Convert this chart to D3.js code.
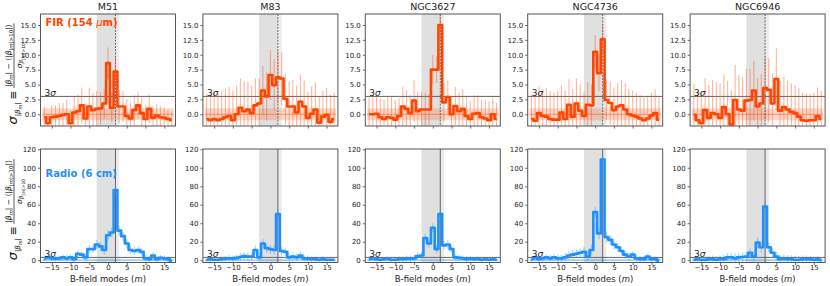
<!DOCTYPE html>
<html><head><meta charset="utf-8">
<script src="https://cdn.jsdelivr.net/npm/d3@7"></script>
<style>
body{margin:0;background:#fff}
text{font-family:"DejaVu Sans",sans-serif}
</style></head><body>
<svg id="chart" width="830" height="286"></svg>
<script>
const galaxies = ["M51","M83","NGC3627","NGC4736","NGC6946"]
const modes = [-17,-16,-15,-14,-13,-12,-11,-10,-9,-8,-7,-6,-5,-4,-3,-2,-1,0,1,2,3,4,5,6,7,8,9,10,11,12,13,14,15,16,17]

// FIR (154 um) significance per mode
const firM51   = [-0.5,-1.5,-0.5,-0.4,-0.3,-0.1,0.0,-1.5,0.3,0.5,1.5,-0.7,1.3,0.7,0.9,1.0,1.8, 8.6,1.1,7.2,1.3,1.3,-0.3,-0.7,0.7,1.5,0.2,-0.8,0.9,-0.6,-0.2,-0.5,-0.6,-0.8,-1.0]
const firM83   = [-0.8,-1.0,-0.8,-1.0,-0.8,-0.5,-0.3,-1.0,0.0,1.1,0.5,0.8,0.2,1.5,1.8,4.0,3.0, 6.6,4.9,6.2,6.0,2.6,1.3,1.3,0.3,2.1,1.3,-0.6,0.1,0.8,-1.4,-0.4,-0.1,-1.3,-0.8]
const firN3627 = [0.0,0.0,0.1,-0.5,-0.8,-0.5,-0.6,-0.9,-0.3,1.3,0.9,0.2,2.3,0.5,0.8,0.8,0.8, 7.5,7.5,15.0,2.0,2.9,0.0,1.4,0.5,0.9,-0.3,-0.8,0.1,0.2,-0.5,-0.7,-1.0,0.0,-0.8]
const firN4736 = [-0.8,-1.1,0.2,-0.3,-0.4,-0.8,-0.9,-0.9,0.3,-0.8,1.6,-0.4,1.8,0.6,-0.3,1.6,1.5, 10.5,6.9,12.6,2.4,1.9,0.7,1.3,1.5,0.8,0.0,-0.2,-0.4,-0.7,-1.0,-0.7,-0.2,0.2,-0.9]
const firN6946 = [-0.1,-1.0,-1.5,0.7,-0.6,0.2,0.0,-0.6,1.2,0.0,-1.7,2.4,0.8,0.6,2.3,2.4,4.0, 1.3,1.8,4.4,4.1,1.8,5.9,0.6,1.2,0.8,0.4,0.2,-0.4,-1.0,-1.1,-1.0,-1.0,-0.3,-0.8]

const firErrM51   = [1.8,1.6,2.0,1.9,2.2,2.0,2.4,2.1,2.6,2.8,3.0,2.5,3.2,2.9,3.0,2.7,2.5, 2.6,2.5,2.4,2.8,2.6,2.9,2.7,2.5,2.2,2.6,2.3,2.4,2.0,1.9,1.8,1.7,1.6,1.5]
const firErrM83   = [4.3,4.4,4.5,4.6,4.7,4.8,4.9,5.0,4.8,4.9,5.0,4.7,4.6,4.5,4.2,4.1,4.0, 4.2,4.3,4.4,4.5,4.3,4.2,4.4,4.5,4.6,4.5,4.4,4.6,4.5,4.4,4.3,4.5,4.6,4.4]
const firErrN3627 = [2.8,2.9,3.0,3.2,3.3,3.4,3.5,3.3,3.0,3.4,3.2,3.1,3.5,3.3,3.0,2.8,2.6, 2.5,2.2,2.6,3.2,2.8,3.0,3.2,3.1,3.3,3.2,3.0,3.1,3.0,2.9,3.0,3.1,2.8,2.7]
const firErrN4736 = [4.0,4.2,4.5,4.6,4.8,4.7,4.6,4.8,4.5,4.9,4.3,4.6,4.2,4.4,4.0,3.8,3.5, 2.8,3.0,2.5,3.3,3.6,3.8,4.0,4.2,4.4,4.3,4.2,4.0,3.9,3.8,3.7,3.9,4.0,3.8]
const firErrN6946 = [5.2,5.0,5.3,5.4,5.5,5.6,5.4,5.8,5.5,5.6,5.7,5.9,5.8,5.6,5.4,5.2,5.0, 4.8,5.0,5.2,5.3,5.1,5.2,5.0,5.1,4.9,4.8,4.7,4.8,4.6,4.5,4.4,4.6,4.8,4.7]

// Radio (6 cm) significance per mode
const radM51   = [2,3,2,1.5,2,3,2,3,1,7,6,3,12,12,17,15,11, 27,30,76,32,26,18,11,10,11,9,2,1,5,1,2.5,2,1,-1]
const radM83   = [0.5,1,0.5,0.5,1,1.5,2,1.5,2.5,3.5,4.5,4,4,11,3,18,13, 12,11,50,10,9,3,4,3,5,2,1.5,1,1,0.5,1,0.5,0.5,0.5]
const radN3627 = [1,2,1,0.5,1,1.5,0.5,0.5,1,1,1.5,1.5,2,4.5,5,24,18, 35,12,50,16,17,12,3,2.5,2,1,1.5,1,1.5,0.5,1,0.5,1,0.5]
const radN4736 = [1,3,1,2,3,2,3,2,2,3,5,6,7,8,9,4,11, 52,29,109,25,22,17,14,10,6,4,6,2,1,1,4,1,1,-0.5]
const radN6946 = [0.5,1,0.5,0.5,1,1,0.5,1,1,3,3,2,3,3.5,4,8,4, 19,14,58,14,8,4,1,1.5,1,1,0.5,0.5,1,1,1,0.5,1,0]

const radErrM51   = [3,3,3,3,3,3.5,3.5,3.5,3.5,4,4,4,4.5,4.5,5,5,5, 5.5,5.5,6,5.5,5,5,4.5,4.5,4,4,3.5,3.5,3.5,3,3,3,3,3]
const radErrM83   = [2.5,2.5,3,3,3,3,3.5,3.5,3.5,4,4,4,4,4.5,4.5,5,5, 5,5,5.5,5,4.5,4.5,4,4,4,3.5,3.5,3,3,3,3,2.5,2.5,2.5]
const radErrN3627 = [2,2,2,2.5,2.5,2.5,3,3,3,3,3.5,3.5,3.5,4,4,4.5,4.5, 5,4.5,5,4.5,4.5,4,3.5,3.5,3,3,3,2.5,2.5,2.5,2,2,2,2]
const radErrN4736 = [3,3,3,3.5,3.5,3.5,4,4,4,4.5,4.5,5,5,5,5.5,5.5,6, 6,6,6.5,6,5.5,5.5,5,5,4.5,4.5,4,4,3.5,3.5,3.5,3,3,3]
const radErrN6946 = [3,3,3.5,3.5,3.5,4,4,4,4.5,4.5,4.5,5,5,5,5.5,5.5,5.5, 6,6,6,5.5,5.5,5,5,5,4.5,4.5,4.5,4,4,4,3.5,3.5,3.5,3]

const firTicks = [0,2.5,5,7.5,10,12.5,15]
const radTicks = [0,20,40,60,80,100,120]
const modeTicks = [-15,-10,-5,0,5,10,15]

const rows = [
  {vals:[firM51,firM83,firN3627,firN4736,firN6946],
   errs:[firErrM51,firErrM83,firErrN3627,firErrN4736,firErrN6946],
   color:"#ff4500", domain:[-1.97,16.85], ticks:firTicks, fmt:d3.format(".1f"),
   top:14, h:112, tag:"FIR (154 ", tagEnd:"m)", vdash:"2,1.2"},
  {vals:[radM51,radM83,radN3627,radN4736,radN6946],
   errs:[radErrM51,radErrM83,radErrN3627,radErrN4736,radErrN6946],
   color:"#1e90ff", domain:[-2.5,120.3], ticks:radTicks, fmt:d3.format("d"),
   top:149, h:113.5, tag:"Radio (6 cm)", vdash:null}
]

const svg = d3.select("#chart")
const W = 135

rows.forEach((row, r) => {
  galaxies.forEach((name, c) => {
    const left = 40.5 + c*162.4
    const g = svg.append("g").attr("transform", `translate(${left},${row.top})`)
    const x = d3.scaleLinear().domain([-18,18]).range([0,W])
    const y = d3.scaleLinear().domain(row.domain).range([row.h,0])
    const id = `clip${r}${c}`
    g.append("clipPath").attr("id", id).append("rect").attr("width", W).attr("height", row.h)
    const p = g.append("g").attr("clip-path", `url(#${id})`)

    // grey band around the central modes
    p.append("rect").attr("x", x(-3)).attr("width", x(2)-x(-3))
      .attr("y", 0).attr("height", row.h).attr("fill", "#e0e0e0")
    p.append("rect").attr("x", x(2)).attr("width", x(3)-x(2))
      .attr("y", 0).attr("height", row.h).attr("fill", "#ececec")

    // +-1 sigma band and zero line
    p.append("rect").attr("x", x(-17.5)).attr("width", x(17.5)-x(-17.5))
      .attr("y", y(1)).attr("height", y(-1)-y(1))
      .attr("fill", row.color).attr("opacity", 0.2)
    p.append("line").attr("x1", x(-17.5)).attr("x2", x(17.5))
      .attr("y1", y(0)).attr("y2", y(0))
      .attr("stroke", row.color).attr("stroke-opacity", 0.4).attr("stroke-width", 1.2)

    // 3 sigma line
    p.append("line").attr("x1", 0).attr("x2", W).attr("y1", y(3)).attr("y2", y(3))
      .attr("stroke", "#666").attr("stroke-width", 1)

    // m = 2 marker
    p.append("line").attr("x1", x(2)).attr("x2", x(2)).attr("y1", 0).attr("y2", row.h)
      .attr("stroke", "#555").attr("stroke-width", 0.9)
      .attr("stroke-dasharray", row.vdash)

    const vals = row.vals[c], errs = row.errs[c]
    const pts = modes.map((m, i) => ({m, v: vals[i], e: errs[i]}))

    p.selectAll(".eb").data(pts).enter().append("line")
      .attr("x1", d => x(d.m)).attr("x2", d => x(d.m))
      .attr("y1", d => y(d.v - d.e)).attr("y2", d => y(d.v + d.e))
      .attr("stroke", row.color).attr("stroke-opacity", 0.4).attr("stroke-width", 1.1)

    p.append("path").datum(pts)
      .attr("d", d3.line().x(d => x(d.m)).y(d => y(d.v)).curve(d3.curveStep))
      .attr("fill", "none").attr("stroke", row.color).attr("stroke-width", 2.6)
      .attr("stroke-linejoin", "round")

    // axes
    const ya = g.append("g").call(d3.axisLeft(y).tickValues(row.ticks).tickFormat(row.fmt).tickSize(2.5).tickPadding(2))
    const xa = g.append("g").attr("transform", `translate(0,${row.h})`)
      .call(d3.axisBottom(x).tickValues(modeTicks).tickSize(2.5).tickPadding(0.5)
        .tickFormat(r === 1 ? d3.format("d") : ""))
    ;[ya, xa].forEach(a => {
      a.select(".domain").remove()
      a.selectAll("line").attr("stroke", "#444").attr("stroke-width", 0.8)
      a.selectAll("text").attr("fill", "#222").attr("font-size", 7)
        .attr("font-family", "DejaVu Sans")
    })

    g.append("rect").attr("width", W).attr("height", row.h)
      .attr("fill", "none").attr("stroke", "#555").attr("stroke-width", 1)

    const s = g.append("text").attr("x", 4).attr("y", y(3) - 0.8)
      .attr("font-size", 9).attr("fill", "#222")
    s.append("tspan").text("3")
    s.append("tspan").attr("font-style", "italic").text("σ")

    if (r === 0) {
      svg.append("text").attr("x", left + W/2).attr("y", 10)
        .attr("text-anchor", "middle").attr("font-size", 9.5).attr("fill", "#222").text(name)
    } else {
      const t = svg.append("text").attr("x", left + W/2).attr("y", 282)
        .attr("text-anchor", "middle").attr("font-size", 8.5).attr("fill", "#222")
      t.append("tspan").text("B-field modes (")
      t.append("tspan").attr("font-style", "italic").text("m")
      t.append("tspan").text(")")
    }

    if (c === 0) {
      const t = g.append("text").attr("x", 5).attr("y", r === 0 ? 12 : 28)
        .attr("font-size", 10).attr("font-weight", "bold").attr("fill", row.color)
      t.append("tspan").text(row.tag)
      if (row.tagEnd) {
        t.append("tspan").attr("font-style", "italic").attr("font-weight", "normal").text("μ")
        t.append("tspan").text(row.tagEnd)
      }
      yLabel(row.top + row.h/2 + 4)
    }
  })
})

function run(g, pieces, x0) {
  let cx = x0
  pieces.forEach(p => {
    const t = g.append("text").attr("x", cx).attr("y", p.b)
      .attr("font-size", p.s).attr("fill", "#111")
      .attr("font-style", p.i ? "italic" : "normal").text(p.t)
    cx += t.node().getComputedTextLength() + (p.gap || 0)
  })
  return cx
}

function yLabel(cy) {
  const g = svg.append("g")
  let cx = run(g, [
    {t:"σ", s:13, b:0, i:true},
    {t:"|", s:7, b:3},
    {t:"β", s:7, b:3, i:true},
    {t:"m", s:5, b:4.5, i:true},
    {t:"|", s:7, b:3, gap:2.5},
    {t:"≡", s:11, b:-0.5, gap:2.5}
  ], 0)
  const fx = cx
  const nEnd = run(g, [
    {t:"|", s:7.5, b:-6},
    {t:"β", s:7.5, b:-6, i:true},
    {t:"m", s:5.5, b:-4.5, i:true},
    {t:"| − ⟨|", s:7.5, b:-6},
    {t:"β", s:7.5, b:-6, i:true},
    {t:"|", s:5.5, b:-4.5},
    {t:"m", s:5.5, b:-4.5, i:true},
    {t:"|>10", s:5.5, b:-4.5},
    {t:"|⟩", s:7.5, b:-6}
  ], fx + 1)
  const dg = g.append("g")
  const dEnd = run(dg, [
    {t:"σ", s:7.5, b:4.5, i:true},
    {t:"β", s:5.5, b:6, i:true},
    {t:"|", s:4.5, b:7.5},
    {t:"m", s:4.5, b:7.5, i:true},
    {t:"|>10", s:4.5, b:7.5}
  ], 0)
  dg.attr("transform", `translate(${fx + 1 + (nEnd - fx - 1 - dEnd)/2},0)`)
  g.append("line").attr("x1", fx).attr("x2", nEnd + 1).attr("y1", -3).attr("y2", -3)
    .attr("stroke", "#111").attr("stroke-width", 0.7)
  const len = nEnd + 1
  g.attr("transform", `translate(17,${cy + len/2}) rotate(-90)`)
}
</script>
</body></html>
